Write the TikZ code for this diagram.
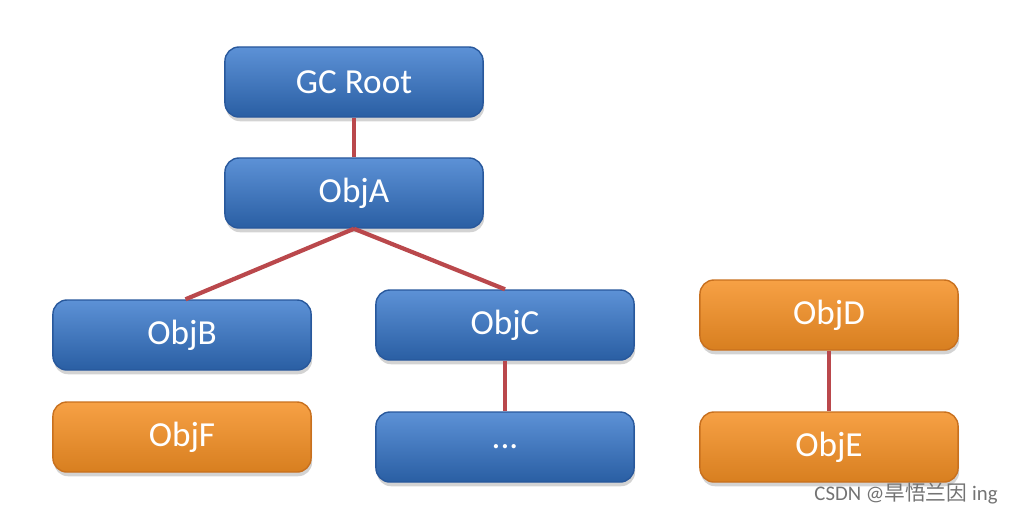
\documentclass[tikz,border=0pt]{standalone}
\usepackage{fontspec}
\setmainfont{Carlito}
\newfontfamily\cjkfont{Noto Sans CJK SC}
\usepackage{xcolor}
\definecolor{objblue}{RGB}{52, 118, 204}
\definecolor{objblueline}{RGB}{40, 88, 156}
\definecolor{objorange}{RGB}{245, 144, 36}
\definecolor{objorangeline}{RGB}{200, 112, 30}
\definecolor{linkred}{RGB}{186, 72, 76}
\usetikzlibrary{positioning, shadows}

\begin{document}
\begin{tikzpicture}[
    x=0.01cm, y=-0.01cm,
    obj/.style={rectangle, minimum width=2.58cm, minimum height=0.70cm,
                rounded corners=4pt, text=white, font=\fontsize{10}{12}\selectfont,
                drop shadow={shadow xshift=0.3pt, shadow yshift=-1.2pt, opacity=0.35}},
    live/.style={obj, draw=objblueline, top color=objblue!80!white,
                 middle color=objblue, bottom color=objblue!80!black},
    dead/.style={obj, draw=objorangeline, top color=objorange!85!white,
                 middle color=objorange, bottom color=objorange!88!black},
    link/.style={draw=linkred, line width=1.2pt}
]
    \useasboundingbox (0,0) rectangle (1013,514);
    \node[live] (root) at (354,82) {GC Root};
    \node[live] (obja) at (354,193) {ObjA};
    \node[live] (objb) at (182,335) {ObjB};
    \node[dead] (objf) at (182,437) {ObjF};
    \node[live] (objc) at (505,325) {ObjC};
    \node[live] (more) at (505,447) {...};
    \node[dead] (objd) at (829,315) {ObjD};
    \node[dead] (obje) at (829,447) {ObjE};

    \draw[link] (root) -- (obja);
    \draw[link] (obja.south) -- ([xshift=1pt]objb.north);
    \draw[link] (obja.south) -- (objc.north);
    \draw[link] (objc) -- (more);
    \draw[link] (objd) -- (obje);

    \node[text=black!55, font=\fontsize{5.9}{7}\selectfont, anchor=east] (mark) at (1010,494)
        {CSDN @{\cjkfont 旱悟兰因} ing};
\end{tikzpicture}
\end{document}
